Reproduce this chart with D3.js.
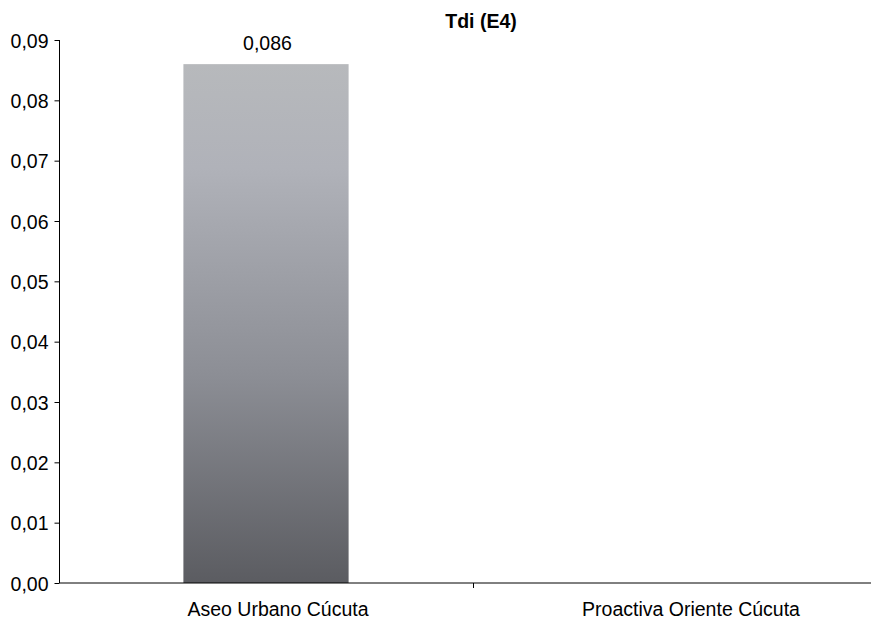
<!DOCTYPE html>
<html><head><meta charset="utf-8">
<script src="https://cdn.jsdelivr.net/npm/d3@7"></script>
<style>body{margin:0;background:#fff}svg{display:block}text{font-family:"Liberation Sans",Arial,sans-serif}</style>
</head><body>
<svg id="c" width="871" height="619"></svg>
<script>
const title = "Tdi (E4)";
const categories = ["Aseo Urbano Cúcuta", "Proactiva Oriente Cúcuta"];
const values = [0.086, null];
const valueLabels = ["0,086", ""];
const yTicks = [0, 0.01, 0.02, 0.03, 0.04, 0.05, 0.06, 0.07, 0.08, 0.09];

(function(){
const svg = d3.select("#c");
const mL = 59.5, mR = 885.5, mT = 40, mB = 583;
const x = d3.scaleBand().domain(categories).range([mL, mR]).paddingInner(0).paddingOuter(0);
const y = d3.scaleLinear().domain([0, 0.09]).range([mB, mT]);

const defs = svg.append("defs");
const g = defs.append("linearGradient").attr("id","bg").attr("x1",0).attr("y1",0).attr("x2",0).attr("y2",1);
g.append("stop").attr("offset","0%").attr("stop-color","#b7b9bc");
g.append("stop").attr("offset","20%").attr("stop-color","#b0b2b9");
g.append("stop").attr("offset","60%").attr("stop-color","#8c8e95");
g.append("stop").attr("offset","100%").attr("stop-color","#5b5c61");

const fs = 19.5;
svg.append("text").attr("x", 481).attr("y", 28).attr("text-anchor","middle")
  .attr("font-weight","bold").attr("font-size", fs).text(title);

const rows = categories.map((c,i)=>({c,v:values[i],l:valueLabels[i]})).filter(d=>d.v!=null);
const bw = x.bandwidth()*0.4;
svg.selectAll("rect.bar").data(rows)
  .enter().append("rect").attr("class","bar")
  .attr("x", d=>x(d.c)+x.bandwidth()/2-bw/2).attr("width", bw)
  .attr("y", d=>y(d.v)).attr("height", d=>y(0)-y(d.v)).attr("fill","url(#bg)");
svg.selectAll("text.vl").data(rows)
  .enter().append("text").attr("class","vl")
  .attr("x", d=>x(d.c)+x.bandwidth()/2+1.5).attr("y", d=>y(d.v)-14.5)
  .attr("text-anchor","middle").attr("font-size",fs).text(d=>d.l);

const fmt = d3.format(".2f");
const ya = svg.append("g").attr("transform",`translate(${mL},0)`)
  .call(d3.axisLeft(y).tickValues(yTicks).tickSize(5).tickPadding(6).tickFormat(d=>fmt(d).replace(".",",")));
ya.select(".domain").attr("stroke","#000").attr("d",`M0,${mT}V${mB}`);
ya.selectAll("text").attr("font-size",fs).attr("fill","#000").attr("font-family","Liberation Sans, Arial, sans-serif").attr("dy","0.36em");

const xa = svg.append("g").attr("transform",`translate(12,${mB})`)
  .call(d3.axisBottom(x).tickSize(0).tickPadding(19));
xa.select(".domain").attr("stroke","#000").attr("d",`M${mL-12},0H${mR}`);
xa.selectAll("text").attr("font-size",fs).attr("fill","#000").attr("font-family","Liberation Sans, Arial, sans-serif").attr("dy","0.71em");
svg.append("g").selectAll("line").data(categories.slice(1)).enter().append("line")
  .attr("x1", d=>Math.round(x(d))+0.5).attr("x2", d=>Math.round(x(d))+0.5)
  .attr("y1", mB).attr("y2", mB+5).attr("stroke","#000");
})();
</script>
</body></html>
